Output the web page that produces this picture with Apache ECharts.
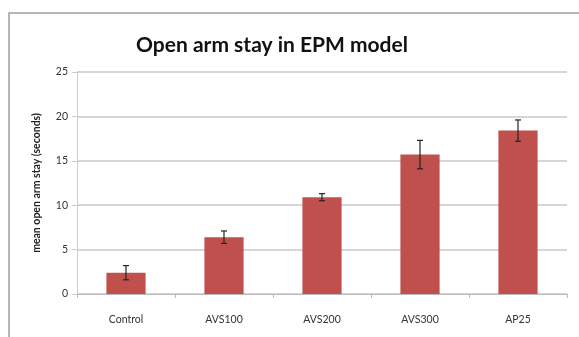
<!DOCTYPE html>
<html>
<head>
    <meta charset="UTF-8">
    <title>Open arm stay</title>
    <style>
        html, body {
            margin: 0;
            padding: 0;
            background-color: #FFF;
        }
    </style>
</head>
<body>
<div id="main" style="width:579px;height:337px"></div>

<script src="https://cdn.jsdelivr.net/npm/echarts@6/dist/echarts.min.js"></script>
<script type="text/javascript">
    // data
    var categories = ['Control', 'AVS100', 'AVS200', 'AVS300', 'AP25'];
    var means = [2.4, 6.4, 10.9, 15.7, 18.4];
    var errors = [0.8, 0.7, 0.4, 1.6, 1.2];
    var yTicks = [0, 5, 10, 15, 20, 25];

    var errData = [];
    for (var i = 0; i < categories.length; i++) {
        errData.push([i, means[i] - errors[i], means[i] + errors[i]]);
    }

    // error bars drawn with a custom series
    function renderError(params, api) {
        var lo = api.coord([api.value(0), api.value(1)]);
        var hi = api.coord([api.value(0), api.value(2)]);
        var cap = 3;
        var style = {stroke: '#222', lineWidth: 1.2};
        return {
            type: 'group',
            children: [
                {type: 'line', shape: {x1: hi[0], y1: hi[1], x2: lo[0], y2: lo[1]}, style: style},
                {type: 'line', shape: {x1: hi[0] - cap, y1: hi[1], x2: hi[0] + cap, y2: hi[1]}, style: style},
                {type: 'line', shape: {x1: lo[0] - cap, y1: lo[1], x2: lo[0] + cap, y2: lo[1]}, style: style}
            ]
        };
    }

    var mCharts = echarts.init(document.getElementById('main'));
    var mOptions = {
        animation: false,
        textStyle: {fontFamily: 'Lato, "Noto Sans", sans-serif'},
        graphic: [{
            type: 'rect',
            shape: {x: 9, y: 13, width: 600, height: 400},
            style: {fill: 'none', stroke: '#a0a0a0', lineWidth: 1.5}
        }],
        title: {
            text: 'Open arm stay in EPM model',
            left: 267,
            top: 30,
            textAlign: 'center',
            textStyle: {fontSize: 21, fontWeight: 'bold', color: '#111', fontFamily: 'Lato, sans-serif'}
        },
        grid: {
            left: 77,
            right: 12,
            top: 72,
            bottom: 43
        },
        xAxis: {
            type: 'category',
            data: categories,
            axisLine: {lineStyle: {color: '#bbb'}},
            axisTick: {show: true, length: 4, lineStyle: {color: '#bbb'}},
            axisLabel: {color: '#333', fontSize: 10.5, margin: 20}
        },
        yAxis: {
            type: 'value',
            min: yTicks[0],
            max: yTicks[yTicks.length - 1],
            interval: 5,
            name: 'mean open arm stay (seconds)',
            nameLocation: 'middle',
            nameGap: 35,
            nameTextStyle: {fontSize: 10.5, color: '#222', fontWeight: 'bold'},
            axisLine: {show: true, lineStyle: {color: '#ccc'}},
            axisTick: {show: true, length: 5, lineStyle: {color: '#ccc'}},
            axisLabel: {color: '#333', fontSize: 10.5, margin: 9},
            splitLine: {lineStyle: {color: '#c8c8c8', width: 1.5}}
        },
        series: [{
            type: 'bar',
            data: means,
            barWidth: '40%',
            itemStyle: {color: '#C0504D'}
        }, {
            type: 'custom',
            renderItem: renderError,
            data: errData,
            z: 10
        }]
    };
    mCharts.setOption(mOptions);
</script>
</body>
</html>
